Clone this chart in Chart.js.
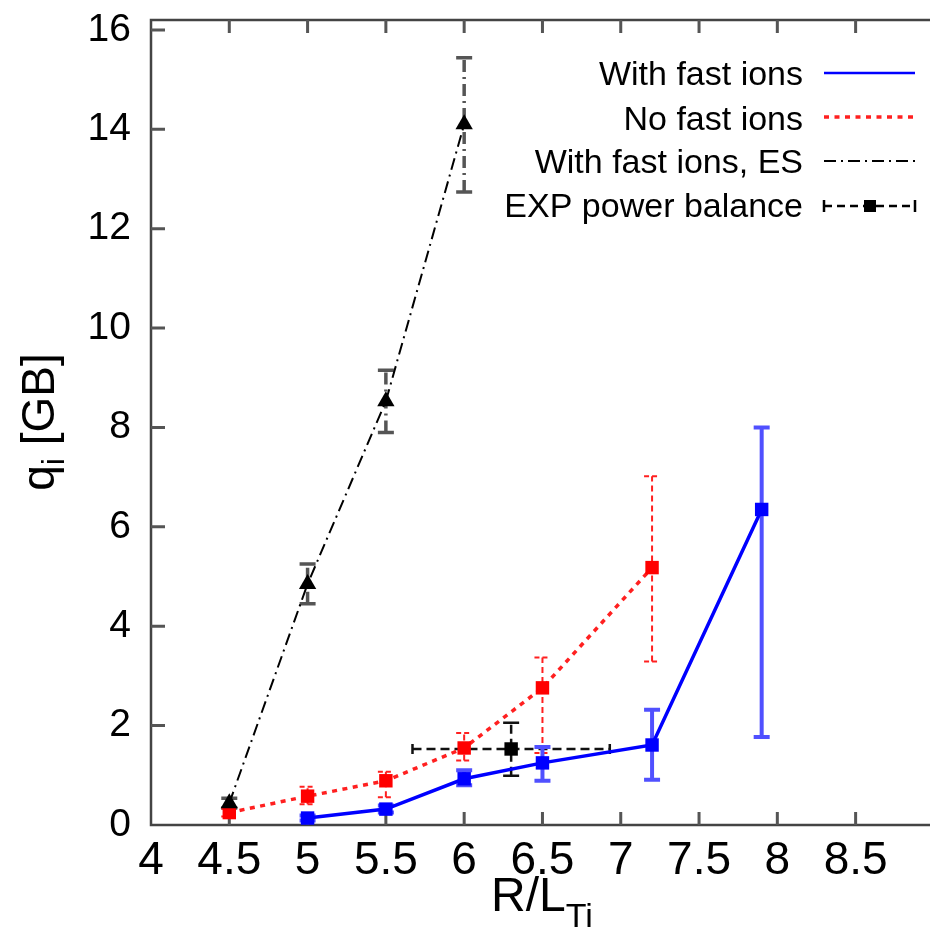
<!DOCTYPE html>
<html>
<head>
<meta charset="utf-8">
<script src="https://cdn.jsdelivr.net/npm/chart.js@4.4.0/dist/chart.umd.min.js"></script>
<style>
  html, body { margin: 0; padding: 0; background: #fff; overflow: hidden; }
</style>
</head>
<body>
<canvas id="myChart" width="930" height="931"></canvas>
<script>
const FONT = '"Liberation Sans", Arial, Helvetica, sans-serif';

// With fast ions (blue)
const fastX  = [5.0, 5.5, 6.0, 6.5, 7.2, 7.9];
const fastQ  = [0.14, 0.32, 0.93, 1.25, 1.61, 6.35];
const fastLo = [0.09, 0.25, 0.80, 0.89, 0.91, 1.77];
const fastHi = [0.19, 0.39, 1.10, 1.57, 2.32, 8.0];

// No fast ions (red)
const noX  = [4.5, 5.0, 5.5, 6.0, 6.5, 7.2];
const noQ  = [0.25, 0.58, 0.89, 1.55, 2.76, 5.18];
const noLo = [0.17, 0.42, 0.56, 1.30, 1.45, 3.29];
const noHi = [0.33, 0.77, 1.07, 1.85, 3.37, 7.02];

// With fast ions, ES (black triangles)
const esX  = [4.5, 5.0, 5.5, 6.0];
const esQ  = [0.44, 4.85, 8.53, 14.1];
const esLo = [0.34, 4.45, 7.90, 12.74];
const esHi = [0.54, 5.25, 9.15, 15.44];

// EXP power balance
const expX   = [6.3];
const expQ   = [1.53];
const expXLo = [5.67];
const expXHi = [6.93];
const expLo  = [0.99];
const expHi  = [2.06];

const legendLabels = ["With fast ions", "No fast ions", "With fast ions, ES", "EXP power balance"];

function pts(xs, ys) {
    return xs.map((x, i) => ({ x: x, y: ys[i] }));
}

// error bars drawn through the scales
const errorBars = {
    id: 'errorBars',
    beforeDatasetsDraw(chart) {
        const ctx = chart.ctx;
        const sx = chart.scales.x, sy = chart.scales.y;
        chart.data.datasets.forEach(ds => {
            const e = ds.errorBars;
            if (!e) return;
            ctx.save();
            ctx.strokeStyle = e.color;
            ctx.lineWidth = e.width;
            ds.data.forEach((p, i) => {
                const px = sx.getPixelForValue(p.x);
                const py = sy.getPixelForValue(p.y);
                if (e.lo) {
                    const y1 = sy.getPixelForValue(e.lo[i]);
                    const y2 = sy.getPixelForValue(e.hi[i]);
                    ctx.setLineDash(e.dash || []);
                    ctx.beginPath(); ctx.moveTo(px, y1); ctx.lineTo(px, y2); ctx.stroke();
                    ctx.setLineDash(e.capDash || []);
                    ctx.beginPath();
                    ctx.moveTo(px - e.cap, y1); ctx.lineTo(px + e.cap, y1);
                    ctx.moveTo(px - e.cap, y2); ctx.lineTo(px + e.cap, y2);
                    ctx.stroke();
                }
                if (e.xlo) {
                    const x1 = sx.getPixelForValue(e.xlo[i]);
                    const x2 = sx.getPixelForValue(e.xhi[i]);
                    ctx.setLineDash(e.dash || []);
                    ctx.beginPath(); ctx.moveTo(x1, py); ctx.lineTo(x2, py); ctx.stroke();
                    ctx.setLineDash([]);
                    ctx.beginPath();
                    ctx.moveTo(x1, py - 5); ctx.lineTo(x1, py + 5);
                    ctx.moveTo(x2, py - 5); ctx.lineTo(x2, py + 5);
                    ctx.stroke();
                }
            });
            ctx.restore();
        });
    }
};

// gnuplot-like frame with inward ticks, axis titles and legend
const frame = {
    id: 'frame',
    beforeDatasetsDraw(chart) {
        const ctx = chart.ctx;
        const a = chart.chartArea;
        const sx = chart.scales.x, sy = chart.scales.y;
        ctx.save();
        ctx.strokeStyle = '#444';
        ctx.lineWidth = 2.5;
        ctx.beginPath();
        ctx.moveTo(a.right + 2, a.top); ctx.lineTo(a.left, a.top);
        ctx.lineTo(a.left, a.bottom); ctx.lineTo(a.right + 2, a.bottom);
        ctx.stroke();
        ctx.lineWidth = 3;
        ctx.strokeStyle = '#555';
        ctx.beginPath();
        sx.ticks.forEach(t => {
            const px = sx.getPixelForValue(t.value);
            if (px <= a.left + 1) return;
            ctx.moveTo(px, a.bottom); ctx.lineTo(px, a.bottom - 13);
            ctx.moveTo(px, a.top); ctx.lineTo(px, a.top + 13);
        });
        sy.ticks.forEach(t => {
            const py = sy.getPixelForValue(t.value);
            if (py >= a.bottom - 1) return;
            ctx.moveTo(a.left, py); ctx.lineTo(a.left + 14, py);
        });
        ctx.stroke();
        ctx.restore();
    },
    afterDraw(chart) {
        const ctx = chart.ctx;
        ctx.save();
        ctx.fillStyle = '#000';

        // y title: q_i [GB]
        ctx.save();
        ctx.translate(54, 422);
        ctx.rotate(-Math.PI / 2);
        ctx.textBaseline = 'alphabetic';
        ctx.font = '46px ' + FONT;
        const w1 = ctx.measureText('q').width;
        ctx.font = '32px ' + FONT;
        const w2 = ctx.measureText('i').width;
        ctx.font = '46px ' + FONT;
        const w3 = ctx.measureText(' [GB]').width;
        let x0 = -(w1 + w2 + w3) / 2;
        ctx.fillText('q', x0, 0);
        ctx.font = '32px ' + FONT;
        ctx.fillText('i', x0 + w1, 10);
        ctx.font = '46px ' + FONT;
        ctx.fillText(' [GB]', x0 + w1 + w2, 0);
        ctx.restore();

        // x title: R/L_Ti
        ctx.font = '48px ' + FONT;
        const r1 = ctx.measureText('R/L').width;
        ctx.font = '34px ' + FONT;
        const r2 = ctx.measureText('Ti').width;
        let xs = 542 - (r1 + r2) / 2;
        ctx.font = '48px ' + FONT;
        ctx.fillText('R/L', xs, 911);
        ctx.font = '34px ' + FONT;
        ctx.fillText('Ti', xs + r1, 927);

        // legend
        ctx.font = '34px ' + FONT;
        ctx.textAlign = 'right';
        const base = [85, 130, 173, 217];
        const ly = [73, 117, 161, 206];
        legendLabels.forEach((t, i) => ctx.fillText(t, 803, base[i]));
        const x1 = 824, x2 = 915;
        ctx.lineWidth = 2.5;
        ctx.strokeStyle = '#0000ff';
        ctx.beginPath(); ctx.moveTo(x1, ly[0]); ctx.lineTo(x2, ly[0]); ctx.stroke();
        ctx.strokeStyle = '#ff2020';
        ctx.lineWidth = 3.5;
        ctx.setLineDash([5, 5.5]);
        ctx.beginPath(); ctx.moveTo(x1, ly[1]); ctx.lineTo(x2, ly[1]); ctx.stroke();
        ctx.strokeStyle = '#000';
        ctx.lineWidth = 2;
        ctx.setLineDash([12, 5, 2, 5]);
        ctx.beginPath(); ctx.moveTo(x1, ly[2]); ctx.lineTo(x2, ly[2]); ctx.stroke();
        ctx.lineWidth = 2.5;
        ctx.setLineDash([8, 5]);
        ctx.beginPath(); ctx.moveTo(x1, ly[3]); ctx.lineTo(x2, ly[3]); ctx.stroke();
        ctx.setLineDash([]);
        ctx.beginPath();
        ctx.moveTo(x1, ly[3] - 6); ctx.lineTo(x1, ly[3] + 6);
        ctx.moveTo(x2, ly[3] - 6); ctx.lineTo(x2, ly[3] + 6);
        ctx.stroke();
        ctx.fillRect(864, ly[3] - 6, 12, 12);
        ctx.restore();
    }
};

const ctx = document.getElementById('myChart').getContext('2d');
const chart = new Chart(ctx, {
    type: 'scatter',
    data: {
        datasets: [
            {
                label: legendLabels[2],
                data: pts(esX, esQ),
                showLine: true,
                borderColor: '#000',
                borderWidth: 2,
                borderDash: [12, 5, 2, 5],
                backgroundColor: '#000',
                pointStyle: 'triangle',
                pointRadius: 10,
                pointBorderWidth: 0,
                errorBars: { lo: esLo, hi: esHi, color: '#555', width: 3.5, dash: [12, 5, 2, 5], cap: 8 }
            },
            {
                label: legendLabels[1],
                data: pts(noX, noQ),
                showLine: true,
                borderColor: '#ff2020',
                borderWidth: 3.5,
                borderDash: [5, 5.5],
                backgroundColor: '#ff0000',
                pointStyle: 'rect',
                pointRadius: 9.5,
                pointBorderWidth: 0,
                errorBars: { lo: noLo, hi: noHi, color: '#ff2020', width: 2, dash: [6, 4], capDash: [5, 3], cap: 8 }
            },
            {
                label: legendLabels[3],
                data: pts(expX, expQ),
                showLine: false,
                borderColor: '#000',
                backgroundColor: '#000',
                pointStyle: 'rect',
                pointRadius: 9.5,
                pointBorderWidth: 0,
                errorBars: { lo: expLo, hi: expHi, xlo: expXLo, xhi: expXHi, color: '#111', width: 2.5, dash: [9, 5], cap: 8 }
            },
            {
                label: legendLabels[0],
                data: pts(fastX, fastQ),
                showLine: true,
                borderColor: '#0000ff',
                borderWidth: 3.5,
                backgroundColor: '#0000ff',
                pointStyle: 'rect',
                pointRadius: 9.5,
                pointBorderWidth: 0,
                errorBars: { lo: fastLo, hi: fastHi, color: '#5050ff', width: 4, cap: 8 }
            }
        ]
    },
    options: {
        responsive: false,
        animation: false,
        events: [],
        layout: { autoPadding: false, padding: { top: 20, right: 0, left: 0, bottom: 0 } },
        plugins: {
            legend: { display: false },
            tooltip: { enabled: false }
        },
        scales: {
            x: {
                type: 'linear',
                min: 4,
                max: 8.975,
                grid: { display: false, drawTicks: false },
                border: { display: false },
                ticks: {
                    stepSize: 0.5,
                    includeBounds: false,
                    autoSkip: false,
                    maxRotation: 0,
                    padding: 9,
                    color: '#000',
                    font: { family: FONT, size: 46 },
                    callback: v => String(v)
                },
                afterFit: s => {
                    s.height = 106;
                    s.paddingLeft = 0; s.paddingRight = 0;
                    s.paddingTop = 0; s.paddingBottom = 0;
                }
            },
            y: {
                type: 'linear',
                min: 0,
                max: 16.2,
                grid: { display: false, drawTicks: false },
                border: { display: false },
                ticks: {
                    stepSize: 2,
                    includeBounds: false,
                    padding: 20,
                    color: '#000',
                    font: { family: FONT, size: 39 },
                    callback: v => String(v)
                },
                afterFit: s => {
                    s.width = 151;
                    s.paddingLeft = 0; s.paddingRight = 0;
                    s.paddingTop = 0; s.paddingBottom = 0;
                }
            }
        }
    },
    plugins: [errorBars, frame]
});
</script>
</body>
</html>
